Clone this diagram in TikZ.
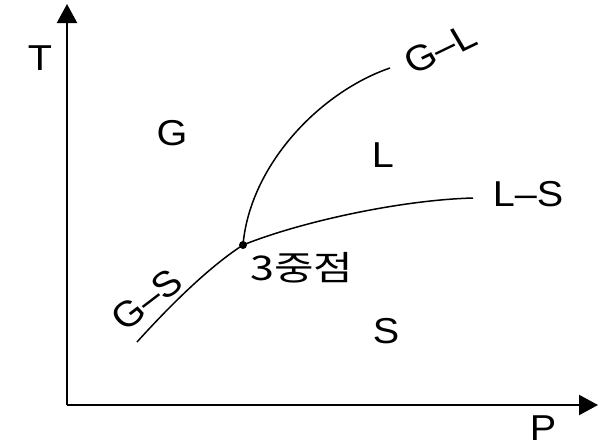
\documentclass[tikz,border=0pt]{standalone}
\usepackage{fontspec}
\setmainfont{Liberation Sans}
\newfontfamily\cjk{Noto Sans CJK KR}
\usetikzlibrary{arrows.meta}
\begin{document}
\begin{tikzpicture}[x=1pt,y=-1pt,
  axis/.style={line width=2.2pt,-{Triangle[length=19pt,width=20pt]}},
  curve/.style={line width=1.5pt},
  lbl/.style={inner sep=0pt,xscale=1.1,font=\fontsize{36}{40}\selectfont}]
\useasboundingbox (0,0) rectangle (608,445);
\coordinate (O) at (67,405);
\coordinate (Ytop) at (67,4);
\coordinate (Xend) at (598,405);
\draw[axis] (O) -- (Ytop);
\draw[axis] (O) -- (Xend);
\coordinate (tp) at (243,245);
\coordinate (gs) at (137,342);
\coordinate (ls) at (473,198);
\coordinate (gl) at (390,68);
\draw[curve] (gs) .. controls (175,300) and (212,265) .. (tp);
\draw[curve] (tp) .. controls (300,222) and (400,200) .. (ls);
\draw[curve] (tp) .. controls (250,165) and (320,92) .. (gl);
\fill (tp) circle (4);
\node[lbl] (T) at (40,58) {T};
\node[lbl,text depth=0pt,anchor=south] (P) at (543,441) {P};
\node[lbl] (G) at (172,133) {G};
\node[lbl] (L) at (383,155) {L};
\node[lbl] (S) at (386,331) {S};
\node[lbl] (LS) at (528,194) {L–S};
\node[lbl,xscale=1.15,font=\cjk\fontsize{34}{40}\selectfont] (tpl) at (302,268) {3중점};
\node[lbl,rotate=40] (GS) at (147,300) {G–S};
\node[lbl,rotate=28] (GL) at (440,49) {G–L};
\end{tikzpicture}
\end{document}
